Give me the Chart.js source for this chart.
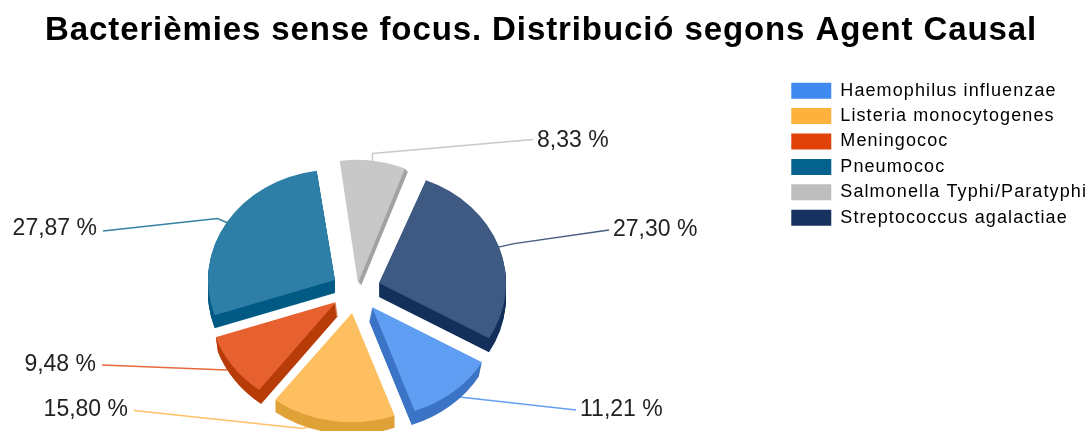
<!DOCTYPE html>
<html>
<head>
<meta charset="utf-8">
<style>html,body{margin:0;padding:0;background:#fff}canvas{display:block}</style>
<script src="https://cdn.jsdelivr.net/npm/chart.js@4/dist/chart.umd.js"></script>
</head>
<body>
<canvas id="c" width="1091" height="431"></canvas>
<script>
const titleText = "Bacterièmies sense focus. Distribució segons Agent Causal";
const categories = ["Haemophilus influenzae","Listeria monocytogenes","Meningococ","Pneumococ","Salmonella Typhi/Paratyphi","Streptococcus agalactiae"];
const values = [11.21,15.80,9.48,27.87,8.33,27.30];
const valueLabels = ["11,21 %","15,80 %","9,48 %","27,87 %","8,33 %","27,30 %"];
const legendColors = ["#4089f0","#ffb13e","#e0420a","#04628f","#bdbdbd","#16325f"];
const faceColors = ["#5f9ef2","#fdbf5f","#e66030","#2e7fa8","#c8c8c8","#3e5a82"];
const sideColors = ["#3c74c6","#dfa238","#b83c08","#025a85","#a2a2a2","#14305c"];

// Layout of the 3D look (not data)
const pieCentre = {x:357, y:296};
const pieRadius = 127;
const explode = [[15,11],[-5,17],[-21,6],[-22,-16],[1,-13],[22,-13]];
const squash = [.87,.86,.87,.87,.97,.87];
const depth = [[-3,14],[0,12],[2,14],[0,13],[3,3],[0,14]];
const labelAnchor = [[580,409,"left"],[128,409,"right"],[96,364,"right"],[97,228,"right"],[537,140,"left"],[613,229,"left"]];
const elbow = [[6,7],[-30,10],[-9,5],[-12,-5],[0,-10],[18,-4]];
const leaderEndY = [1,1.5,1,3,-0.5,1];
const titleSpacing = "0.9px";
const legendSpacing = "1.1px";

const pie3d = {
  id:"pie3d",
  beforeLayout(chart){ chart.ctx.letterSpacing = legendSpacing; },
  afterLayout(chart){
    const ctx = chart.ctx;
    ctx.letterSpacing = "0px";
    const wrap = (box,sp)=>{
      if(!box || box._spaced) return;
      const orig = box.draw;
      box.draw = function(a){ ctx.save(); ctx.letterSpacing = sp; orig.call(this,a); ctx.restore(); };
      box._spaced = true;
    };
    wrap(chart.titleBlock,titleSpacing);
    wrap(chart.legend,legendSpacing);
  },
  beforeDatasetDraw(chart,args){
    const ctx = chart.ctx;
    const arcs = chart.getDatasetMeta(args.index).data;
    const place = (arc,i,dx,dy)=>{
      ctx.translate(pieCentre.x+explode[i][0]+dx, pieCentre.y+explode[i][1]+dy);
      ctx.scale(1,squash[i]);
      ctx.translate(-arc.x,-arc.y);
    };
    // leader lines and labels
    arcs.forEach((arc,i)=>{
      const mid=(arc.startAngle+arc.endAngle)/2;
      const sx=pieCentre.x+explode[i][0]+Math.cos(mid)*(pieRadius-3);
      const sy=pieCentre.y+explode[i][1]+Math.sin(mid)*(pieRadius-3)*squash[i];
      const a=labelAnchor[i];
      const ex=sx+elbow[i][0], ey=sy+elbow[i][1];
      ctx.save();
      ctx.strokeStyle=legendColors[i];
      ctx.globalAlpha=.8;
      ctx.lineWidth=1.5;
      ctx.beginPath();ctx.moveTo(sx,sy);ctx.lineTo(ex,ey);
      ctx.lineTo(a[0]+(a[2]==="left"?-4:6),a[1]+leaderEndY[i]);ctx.stroke();
      ctx.restore();
      ctx.save();
      ctx.font="23px 'Liberation Sans'";ctx.fillStyle="#222";
      ctx.textAlign=a[2];ctx.textBaseline="middle";
      ctx.fillText(valueLabels[i],a[0],a[1]+1);
      ctx.restore();
    });
    // extruded sides
    arcs.forEach((arc,i)=>{
      const side=Object.create(arc);
      side.options=Object.assign({},arc.options,{backgroundColor:sideColors[i],borderWidth:0});
      const n=Math.ceil(Math.max(Math.abs(depth[i][0]),depth[i][1]));
      for(let s=n;s>=1;s--){
        ctx.save();
        place(arc,i,depth[i][0]*s/n,depth[i][1]*s/n);
        side.draw(ctx);
        ctx.restore();
      }
    });
    // top faces
    arcs.forEach((arc,i)=>{
      ctx.save();
      place(arc,i,0,0);
      arc.draw(ctx);
      ctx.restore();
    });
    return false;
  }
};

new Chart(document.getElementById("c"),{
  type:"pie",
  data:{labels:categories,datasets:[{data:values,backgroundColor:faceColors,borderWidth:0,radius:pieRadius}]},
  options:{
    responsive:false,animation:false,rotation:120,
    layout:{padding:{left:45,right:-6}},
    plugins:{
      tooltip:{enabled:false},
      title:{display:true,text:titleText,color:"#000",align:"start",
        font:{family:"'Liberation Sans'",size:33,weight:"bold"},padding:{top:11,bottom:23.7}},
      legend:{position:"right",align:"start",fullSize:false,
        labels:{boxWidth:40,boxHeight:16,padding:7.4,color:"#222",
          font:{family:"'Liberation Sans'",size:18},
          generateLabels(){return categories.map((t,i)=>({text:t,fillStyle:legendColors[i],strokeStyle:legendColors[i],lineWidth:0,index:i,hidden:false}));}
        }}
    }
  },
  plugins:[pie3d]
});
</script>
</body>
</html>
